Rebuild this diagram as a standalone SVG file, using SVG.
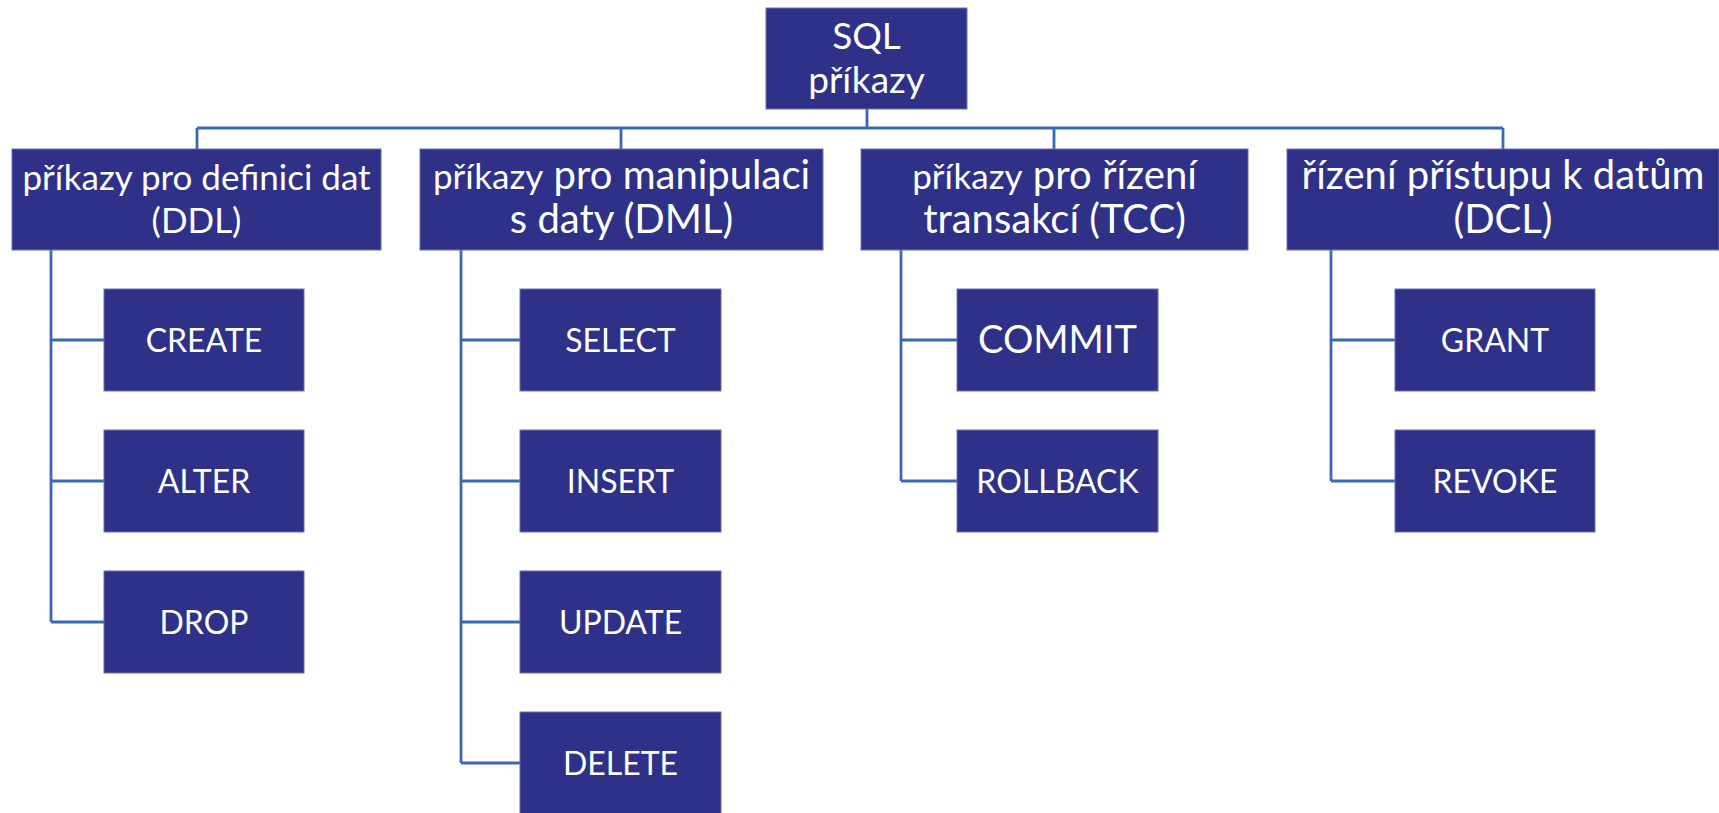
<svg xmlns="http://www.w3.org/2000/svg" width="1719" height="813" viewBox="0 0 1719 813">
<style>
.box{fill:#2E3187;stroke:#6B6FB5;stroke-width:1}
.t{font-family:Lato,"Open Sans","Liberation Sans",sans-serif;fill:#FFFFFF;text-anchor:middle}
.s{font-size:32px}
.h{font-size:35px}
.l{font-size:40px}
.r{font-size:37px}
.m{font-size:38px}
.c{fill:none;stroke:#3A68B2;stroke-width:2.8}
</style>
<rect width="1719" height="813" fill="#FFFFFF"/>
<g id="connectors">
<path class="c" d="M867 109V128M197 128H1503M197 128V149M621 128V149M1054 128V149M1503 128V149"/>
<path class="c" d="M51 250V622M51 340H104M51 481H104M51 622H104"/>
<path class="c" d="M461 250V763M461 340H520M461 481H520M461 622H520M461 763H520"/>
<path class="c" d="M901 250V481M901 340H957M901 481H957"/>
<path class="c" d="M1331 250V481M1331 340H1395M1331 481H1395"/>
</g>
<g id="root"><rect class="box" x="766" y="8" width="201" height="101"/>
<text class="t r" x="866.5" y="49">SQL</text><text class="t r" x="866.5" y="93">příkazy</text></g>
<g id="ddl"><rect class="box" x="12" y="149" width="369" height="101"/>
<text class="t h" x="196.5" y="190">příkazy pro definici dat</text><text class="t h" x="196.5" y="233">(DDL)</text></g>
<g id="dml"><rect class="box" x="420" y="149" width="403" height="101"/>
<text class="t l" x="621.5" y="189"><tspan class="h">příkazy</tspan> pro manipulaci</text><text class="t l" x="621.5" y="233">s daty (DML)</text></g>
<g id="tcc"><rect class="box" x="861" y="149" width="387" height="101"/>
<text class="t l" x="1054.5" y="189"><tspan class="h">příkazy</tspan> pro řízení</text><text class="t l" x="1054.5" y="233">transakcí (TCC)</text></g>
<g id="dcl"><rect class="box" x="1287" y="149" width="432" height="101"/>
<text class="t l" x="1503" y="189">řízení přístupu k datům</text><text class="t l" x="1503" y="233">(DCL)</text></g>
<g id="create"><rect class="box" x="104" y="289" width="200" height="102"/><text class="t s" x="204" y="352">CREATE</text></g>
<g id="alter"><rect class="box" x="104" y="430" width="200" height="102"/><text class="t s" x="204" y="493">ALTER</text></g>
<g id="drop"><rect class="box" x="104" y="571" width="200" height="102"/><text class="t s" x="204" y="634">DROP</text></g>
<g id="select"><rect class="box" x="520" y="289" width="201" height="102"/><text class="t s" x="620.5" y="352">SELECT</text></g>
<g id="insert"><rect class="box" x="520" y="430" width="201" height="102"/><text class="t s" x="620.5" y="493">INSERT</text></g>
<g id="update"><rect class="box" x="520" y="571" width="201" height="102"/><text class="t s" x="620.5" y="634">UPDATE</text></g>
<g id="delete"><rect class="box" x="520" y="712" width="201" height="102"/><text class="t s" x="620.5" y="775">DELETE</text></g>
<g id="commit"><rect class="box" x="957" y="289" width="201" height="102"/><text class="t m" x="1057.5" y="353">COMMIT</text></g>
<g id="rollback"><rect class="box" x="957" y="430" width="201" height="102"/><text class="t s" x="1057.5" y="493">ROLLBACK</text></g>
<g id="grant"><rect class="box" x="1395" y="289" width="200" height="102"/><text class="t s" x="1495" y="352">GRANT</text></g>
<g id="revoke"><rect class="box" x="1395" y="430" width="200" height="102"/><text class="t s" x="1495" y="493">REVOKE</text></g>
</svg>
